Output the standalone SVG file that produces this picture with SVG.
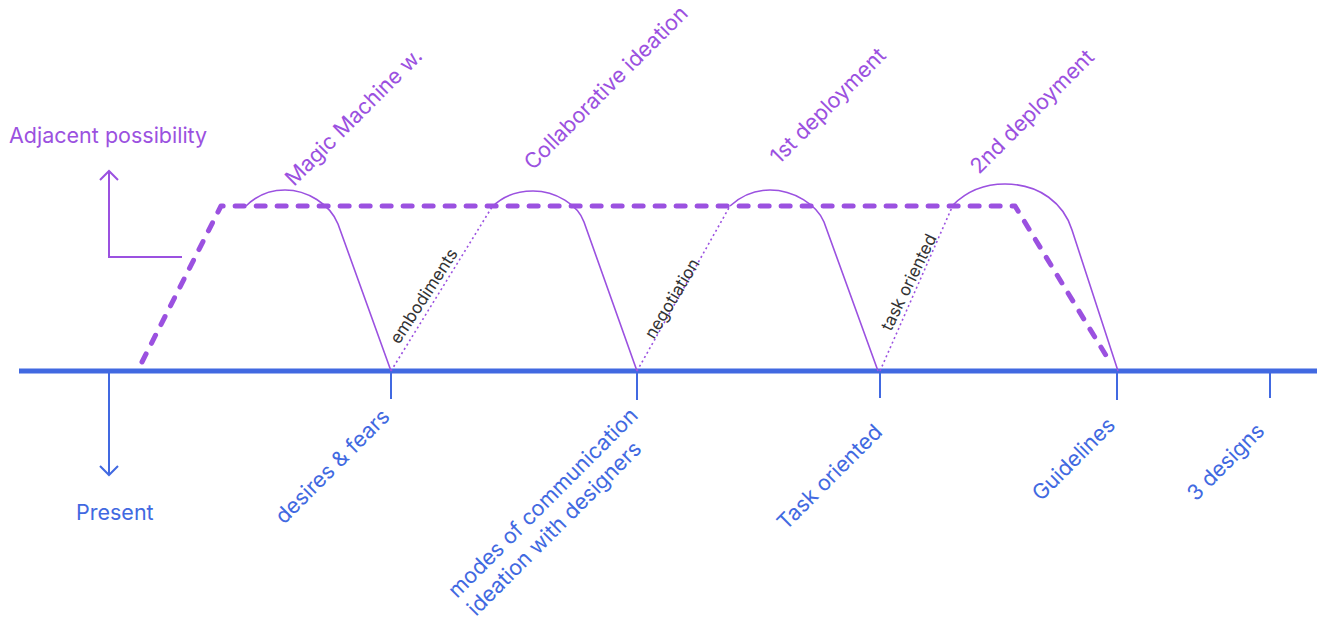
<svg xmlns="http://www.w3.org/2000/svg" width="1322" height="618" viewBox="0 0 1322 618">
<style>
.p{fill:#9B51E0;font-family:Inter,"Noto Sans",sans-serif;font-size:21.5px}
.b{fill:#4169E1;font-family:Inter,"Noto Sans",sans-serif;font-size:21.5px}
.d{fill:#333333;font-family:Inter,"Noto Sans",sans-serif;font-size:17px}
.hump{fill:none;stroke:#9B51E0;stroke-width:1.6}
.dot{fill:none;stroke:#9B51E0;stroke-width:1.6;stroke-dasharray:2 3}
.dash{fill:none;stroke:#9B51E0;stroke-width:5;stroke-dasharray:9 12;stroke-linecap:round;stroke-linejoin:round}
.tick{stroke:#4169E1;stroke-width:2;fill:none}
.parr{stroke:#9B51E0;stroke-width:2;fill:none}
</style>
<rect width="1322" height="618" fill="#ffffff"/>
<g id="connectors">
<line x1="19" y1="371" x2="1317" y2="371" stroke="#4169E1" stroke-width="5"/>
<path class="tick" d="M109,371 L109,475 M100,466 L109,475 L118,466"/>
<path class="tick" d="M391,371 L391,399 M637,371 L637,400 M880,371 L880,398 M1117,371 L1117,400 M1270,371 L1270,398"/>
<path class="parr" d="M182,257 L109,257 L109,171 M100,180 L109,171 L118,180"/>
<path class="dash" d="M142,362 L221,206 L1015,206 L1110,362"/>
<path class="hump" d="M246,206 C258,194 271,190 285,190 C307,190 330,204 338,224 L391,371"/>
<path class="hump" d="M492,207 C504,195 518,191 533,191 C556,191 578,205 584,222 L637,371"/>
<path class="hump" d="M730,206 C742,195 756,190 770,190 C794,190 817,205 824,222 L878,371"/>
<path class="hump" d="M953,205 C968,190 986,184 1005,184 C1040,184 1064,204 1072,230 L1118,371"/>
<path class="dot" d="M391,371 L492,207"/>
<path class="dot" d="M637,371 L730,206"/>
<path class="dot" d="M880,371 L953,205"/>
</g>
<g id="axis-labels">
<text class="p" x="9" y="143">Adjacent possibility</text>
<text class="b" x="76" y="520">Present</text>
</g>
<g id="top-labels">
<text class="p" transform="translate(294,187) rotate(-45)">Magic Machine w.</text>
<text class="p" transform="translate(533,171) rotate(-45)">Collaborative ideation</text>
<text class="p" transform="translate(779,165) rotate(-45)">1st deployment</text>
<text class="p" transform="translate(979,175) rotate(-45)">2nd deployment</text>
</g>
<g id="dotted-labels">
<text class="d" transform="translate(399,345) rotate(-57)">embodiments</text>
<text class="d" transform="translate(654,340) rotate(-59)">negotiation</text>
<text class="d" transform="translate(891,332) rotate(-64)">task oriented</text>
</g>
<g id="bottom-labels">
<text class="b" transform="translate(457,599) rotate(-45)">modes of communication</text>
<text class="b" transform="translate(476,617) rotate(-45)">ideation with designers</text>
<text class="b" transform="translate(284,525) rotate(-45)">desires &amp; fears</text>
<text class="b" transform="translate(786,531) rotate(-45)">Task oriented</text>
<text class="b" transform="translate(1041,502) rotate(-45)">Guidelines</text>
<text class="b" transform="translate(1196,502) rotate(-45)">3 designs</text>
</g>
</svg>
